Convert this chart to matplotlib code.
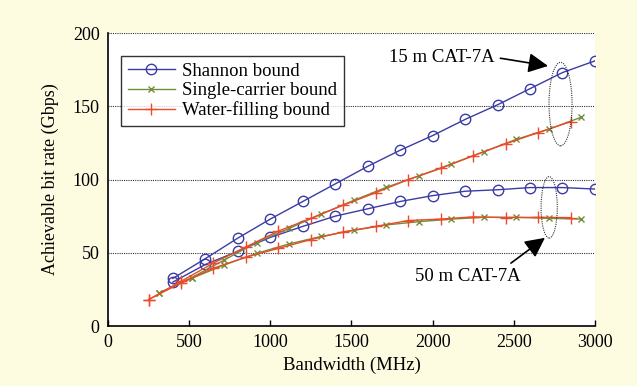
import matplotlib
matplotlib.use("Agg")
import matplotlib.pyplot as plt
from matplotlib.patches import Ellipse

plt.rcParams['font.family'] = ['Liberation Serif', 'DejaVu Serif']

# Data
shannon_bw = [400, 600, 800, 1000, 1200, 1400, 1600, 1800, 2000, 2200, 2400, 2600, 2800, 3000]
shannon_15m = [32.5, 46, 60, 73, 85, 97, 109, 120, 130, 141, 151, 162, 173, 181]
shannon_50m = [30, 42, 51, 60.5, 68, 75, 80, 85, 89, 92, 93, 94.5, 94.5, 93.5]

single_bw = [315, 515, 715, 915, 1115, 1315, 1515, 1715, 1915, 2115, 2315, 2515, 2715, 2915]
single_15m = [22.5, 33, 45, 57, 66.6, 76.5, 85.8, 94.7, 102.4, 110.6, 119, 127.4, 134.3, 142.5]
single_50m = [22.5, 32.5, 41.6, 49.6, 56, 61.2, 65.3, 69, 71.2, 73, 74.2, 74.2, 73.5, 73]

water_bw = [250, 450, 650, 850, 1050, 1250, 1450, 1650, 1850, 2050, 2250, 2450, 2650, 2850]
water_15m = [18, 30.5, 43, 54, 64.8, 73.5, 82.5, 91, 100, 107.6, 116.2, 124.4, 132, 139.5]
water_50m = [18, 29.5, 39.5, 47, 53, 59, 64.3, 68, 72, 73, 74.5, 74, 74.2, 74]

x_ticks = [0, 500, 1000, 1500, 2000, 2500, 3000]
y_ticks = [0, 50, 100, 150, 200]

blue = '#3b3ba6'
green = '#6f8f3a'
red = '#ec4a2a'

fig = plt.figure(figsize=(6.37, 3.86), dpi=100, facecolor='#fdfbe0')
ax = fig.add_axes([0.1695, 0.1554, 0.7645, 0.7591])
ax.set_facecolor('white')

ax.plot(shannon_bw, shannon_15m, color=blue, lw=1.0, marker='o', ms=7.5, mfc='none', mec=blue, mew=1.0, label='Shannon bound', zorder=3)
ax.plot(shannon_bw, shannon_50m, color=blue, lw=1.0, marker='o', ms=7.5, mfc='none', mec=blue, mew=1.0, zorder=3)
ax.plot(single_bw, single_15m, color=green, lw=1.0, marker='x', ms=4, mew=1.0, label='Single-carrier bound', zorder=3)
ax.plot(single_bw, single_50m, color=green, lw=1.0, marker='x', ms=4, mew=1.0, zorder=3)
ax.plot(water_bw, water_15m, color=red, lw=1.0, marker='+', ms=9, mew=1.0, label='Water-filling bound', zorder=4)
ax.plot(water_bw, water_50m, color=red, lw=1.0, marker='+', ms=9, mew=1.0, zorder=4)

ax.set_xlim(0, 3000)
ax.set_ylim(0, 200)
ax.set_xticks(x_ticks)
ax.set_yticks(y_ticks)
ax.yaxis.grid(True, linestyle=(0, (1, 1)), color='#333333', lw=0.8)
ax.set_axisbelow(True)
for s in ['top', 'right']:
    ax.spines[s].set_visible(False)
ax.spines['left'].set_linewidth(1.2)
ax.spines['bottom'].set_linewidth(1.2)
ax.tick_params(axis='x', direction='in', length=4, width=1, labelsize=13, pad=6)
ax.tick_params(axis='y', direction='in', length=0, labelsize=13, pad=6)

ax.set_xlabel('Bandwidth (MHz)', fontsize=13.5, labelpad=4)
ax.set_ylabel('Achievable bit rate (Gbps)', fontsize=13, labelpad=10)

leg = ax.legend(loc='upper left', bbox_to_anchor=(0.027, 0.921), borderaxespad=0,
                fontsize=13.5, frameon=True, fancybox=False, handlelength=2.5,
                labelspacing=0.12, borderpad=0.35, handletextpad=0.4)
leg.get_frame().set_edgecolor('black')
leg.get_frame().set_linewidth(1.0)

# Annotations
ax.add_patch(Ellipse((2788, 151.5), 142, 57, fill=False, ls=(0, (1, 1)), lw=0.8, ec='#333333', zorder=5))
ax.add_patch(Ellipse((2718, 81), 100, 42, fill=False, ls=(0, (1, 1)), lw=0.8, ec='#333333', zorder=5))
ax.annotate('15 m CAT-7A', xy=(2711, 177.5), xytext=(2058, 183.4), fontsize=13.5,
            ha='center', va='center',
            arrowprops=dict(arrowstyle='-|>,head_length=0.6,head_width=0.3', color='black', lw=1.2,
                            mutation_scale=20, shrinkA=2, shrinkB=0, relpos=(1.0, 0.5)))
ax.annotate('50 m CAT-7A', xy=(2692, 60.2), xytext=(2218, 34.1), fontsize=13.5,
            ha='center', va='center',
            arrowprops=dict(arrowstyle='-|>,head_length=0.6,head_width=0.3', color='black', lw=1.2,
                            mutation_scale=20, shrinkA=2, shrinkB=0, relpos=(0.85, 1.0)))

fig.savefig('out.png', dpi=100, facecolor=fig.get_facecolor())
